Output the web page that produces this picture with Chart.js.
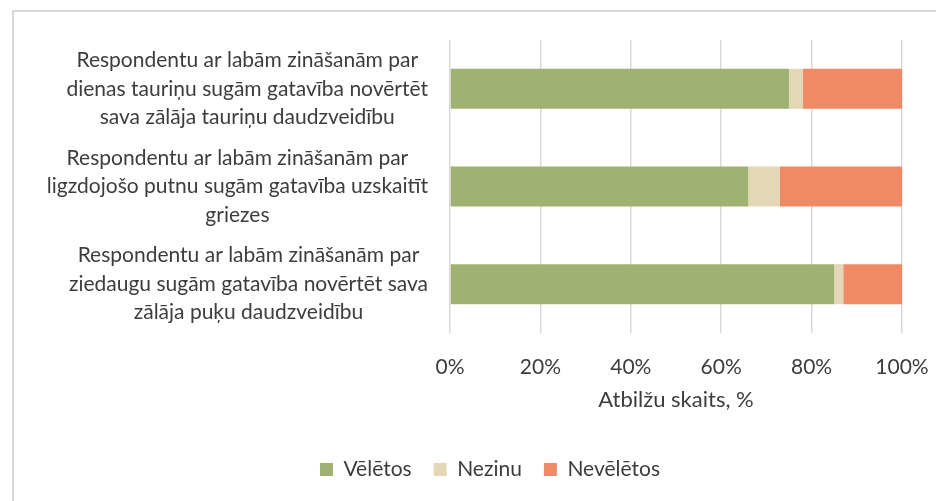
<!DOCTYPE html>
<html>
<head>
<meta charset="utf-8">
<script src="https://cdn.jsdelivr.net/npm/chart.js@4"></script>
<style>
  html, body { margin: 0; padding: 0; background: #ffffff; overflow: hidden; }
  #wrap { position: relative; width: 936px; height: 501px; }
  #frame { position: absolute; left: 12px; top: 10px; width: 1000px; height: 600px; border: 2px solid #dadada; }
  #myBarChart { position: absolute; left: 0; top: 0; }
</style>
</head>
<body>
<div id="wrap">
  <div id="frame"></div>
  <canvas id="myBarChart" width="936" height="501"></canvas>
</div>
<script>
// kategorijas (no augšas uz leju)
const categories = [
    ['Respondentu ar labām zināšanām par', 'dienas tauriņu sugām gatavība novērtēt', 'sava zālāja tauriņu daudzveidību'],
    ['Respondentu ar labām zināšanām par', 'ligzdojošo putnu sugām gatavība uzskaitīt', 'griezes'],
    ['Respondentu ar labām zināšanām par', 'ziedaugu sugām gatavība novērtēt sava', 'zālāja puķu daudzveidību']
];

// sērijas, %
const seriesNames = ['Vēlētos', 'Nezinu', 'Nevēlētos'];
const veletos = [75, 66, 85];
const nezinu = [3, 7, 2];
const neveletos = [22, 27, 13];

const xTicks = [0, 20, 40, 60, 80, 100];
const xTitle = 'Atbilžu skaits, %';

const textColor = '#3d3d3d';
const fontFamily = 'Lato, "Open Sans", sans-serif';

// leģendu pabīdām pa labi, kā oriģinālā (centrēta pēc visa rāmja)
const legendShift = {
    id: 'legendShift',
    afterLayout(chart)
    {
        chart.legend.left += 34;
        chart.legend.right += 34;
    }
};

// kategoriju teksts: katrs bloks pielīdzināts pa labi, rindas centrētas bloka iekšā (kā Excel)
const categoryLabels = {
    id: 'categoryLabels',
    afterDraw(chart)
    {
        const yScale = chart.scales.y;
        const ctx = chart.ctx;
        const lineH = 28.5;
        ctx.save();
        ctx.font = '21px ' + fontFamily;
        ctx.fillStyle = textColor;
        ctx.textAlign = 'left';
        ctx.textBaseline = 'middle';
        chart.data.labels.forEach((lines, i) => {
            const y = yScale.getPixelForTick(i);
            const widths = lines.map(l => ctx.measureText(l).width);
            const widest = Math.max(...widths);
            const cx = yScale.right - 22 - widest / 2;
            lines.forEach((line, j) => {
                ctx.fillText(line, cx - widths[j] / 2, y + (j - (lines.length - 1) / 2) * lineH);
            });
        });
        ctx.restore();
    }
};

let barChart;

function initializeBarChart()
{
    const ctx = document.getElementById('myBarChart').getContext('2d');
    barChart = new Chart(ctx, {
        type: 'bar',
        data: {
            labels: categories,
            datasets: [
                { label: seriesNames[0], data: veletos, backgroundColor: '#a0b271' },
                { label: seriesNames[1], data: nezinu, backgroundColor: '#e3d7b6' },
                { label: seriesNames[2], data: neveletos, backgroundColor: '#f08a66' }
            ]
        },
        plugins: [legendShift, categoryLabels],
        options: {
            indexAxis: 'y',
            responsive: false,
            animation: false,
            categoryPercentage: 1.0,
            barPercentage: 0.41,
            layout: {
                padding: { left: 10, right: 34, top: 40, bottom: 11 }
            },
            scales: {
                x: {
                    stacked: true,
                    min: 0,
                    max: 100,
                    afterBuildTicks: function (scale)
                    {
                        scale.ticks = xTicks.map(v => ({ value: v }));
                    },
                    afterFit: function (scale)
                    {
                        scale.height = 104;
                        scale.paddingLeft = 0;
                        scale.paddingRight = 0;
                    },
                    border: { display: false },
                    grid: { color: '#d9d9d9', lineWidth: 1.5, drawTicks: false },
                    ticks: {
                        padding: 22,
                        color: textColor,
                        font: { family: fontFamily, size: 21 },
                        callback: function (value)
                        {
                            return value + '%';
                        }
                    },
                    title: {
                        display: true,
                        text: xTitle,
                        color: textColor,
                        font: { family: fontFamily, size: 22 },
                        padding: { top: 8, bottom: 24 }
                    }
                },
                y: {
                    stacked: true,
                    border: { display: false },
                    grid: { display: false, drawTicks: false },
                    afterFit: function (scale)
                    {
                        scale.width = 440;
                        scale.paddingTop = 0;
                        scale.paddingBottom = 0;
                    },
                    ticks: { display: false }
                }
            },
            plugins: {
                tooltip: { enabled: false },
                legend: {
                    position: 'bottom',
                    labels: {
                        boxWidth: 13,
                        boxHeight: 13,
                        padding: 22,
                        color: textColor,
                        font: { family: fontFamily, size: 21 }
                    }
                }
            }
        }
    });
}

initializeBarChart();
</script>
</body>
</html>
